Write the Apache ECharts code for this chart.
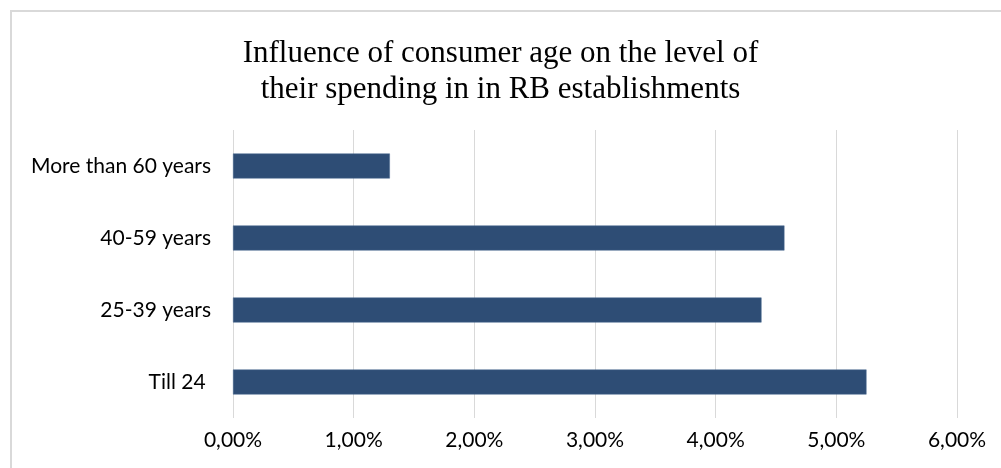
<!DOCTYPE html>
<html><head><meta charset="utf-8">
<script src="https://cdn.jsdelivr.net/npm/echarts@6/dist/echarts.min.js"></script>
<style>html,body{margin:0;padding:0;background:#fff}#c{width:1001px;height:468px}</style>
</head><body><div id="c"></div>
<script>
const titleLines = ["Influence of consumer age on the level of", "their spending in in RB establishments"];
const categories = ["Till 24 ", "25-39 years", "40-59 years", "More than 60 years"];
const values = [5.25, 4.38, 4.57, 1.30];
const xTicks = [0, 1, 2, 3, 4, 5, 6];

const chart = echarts.init(document.getElementById('c'), null, {renderer: 'canvas'});
chart.setOption({
  animation: false,
  backgroundColor: '#fff',
  graphic: [{
    type: 'rect', shape: {x: 11, y: 11, width: 1100, height: 600},
    style: {fill: 'none', stroke: '#d9d9d9', lineWidth: 2}, z: -10
  }],
  title: {
    text: titleLines.join('\n'), left: 'center', top: 31,
    textStyle: {fontFamily: 'Liberation Serif', fontSize: 31, fontWeight: 'normal', color: '#000', lineHeight: 36}
  },
  grid: {left: 233, right: 44, top: 130, bottom: 50, containLabel: false},
  xAxis: {
    type: 'value', min: xTicks[0], max: xTicks[xTicks.length - 1], interval: 1,
    axisLine: {show: false}, axisTick: {show: false},
    splitLine: {lineStyle: {color: '#d9d9d9', width: 1}},
    axisLabel: {formatter: v => v.toFixed(2).replace('.', ',') + '%', margin: 12,
      fontFamily: 'Lato', fontSize: 21, color: '#000'}
  },
  yAxis: {
    type: 'category', data: categories,
    axisLine: {show: false}, axisTick: {show: false},
    axisLabel: {fontFamily: 'Lato', fontSize: 21, color: '#000', margin: 22}
  },
  series: [{
    type: 'bar', data: values, barWidth: 25,
    itemStyle: {color: '#2E4D75', borderColor: '#4a6890', borderWidth: 0.5}
  }]
});
</script></body></html>
